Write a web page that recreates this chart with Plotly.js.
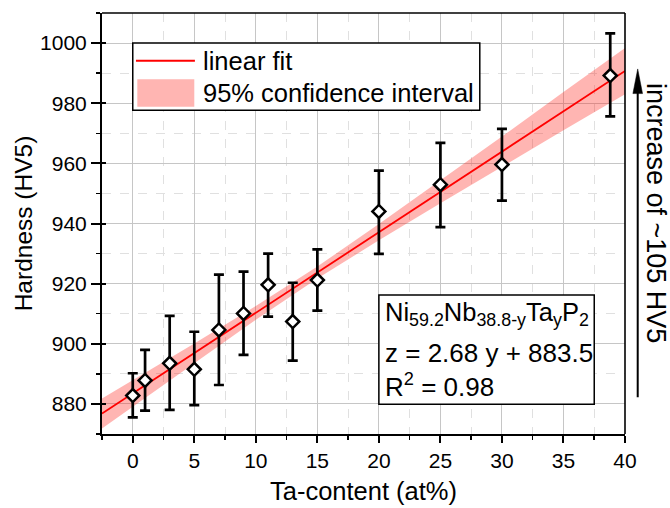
<!DOCTYPE html>
<html><head><meta charset="utf-8">
<script src="https://cdn.plot.ly/plotly-3.0.1.min.js"></script>
<style>html,body{margin:0;padding:0;background:#fff}</style>
</head><body>
<div id="chart" style="width:670px;height:508px"></div>
<script>
const taContent = [0, 1, 3, 5, 7, 9, 11, 13, 15, 20, 25, 30, 38.8];
const hardness  = [882.8, 887.8, 893.5, 891.5, 904.6, 910.1, 919.6, 907.4, 921.2, 944.0, 952.9, 959.6, 989.2];
const errPlus   = [7.4, 10.2, 15.8, 12.5, 18.4, 13.9, 10.4, 12.9, 10.2, 13.6, 13.9, 11.9, 14.0];
const errMinus  = [7.3, 10.0, 15.5, 11.9, 18.3, 13.8, 10.6, 13.0, 10.2, 14.1, 14.1, 12.0, 13.6];

// Linear fit line
const fitX = [-2.5, 40];
const fitY = [876.8, 990.7];

// 95% confidence band
const bandX     = [-2.5, 0, 5, 10, 15, 20, 25, 30, 35, 40];
const bandUpper = [881.8, 887.9, 900.1, 912.6, 925.7, 939.8, 954.3, 968.9, 983.7, 998.4];
const bandLower = [871.8, 879.1, 893.7, 908.0, 921.7, 934.4, 946.7, 958.9, 971.0, 983.0];

// Texts
const legendLabels = ['linear fit', '95% confidence interval'];
const boxLines = ['Ni<sub>59.2</sub>Nb<sub>38.8-y</sub>Ta<sub>y</sub>P<sub>2</sub>', 'z = 2.68 y + 883.5', 'R<sup>2</sup> = 0.98'];
const arrowText = 'increase of ~105 HV5';

const FONT = 'Liberation Sans, Arial, Helvetica, sans-serif';
const BAND = 'rgba(255,30,20,0.33)';

const traces = [
  {x: bandX, y: bandLower, mode: 'lines', line: {width: 0, color: 'rgba(0,0,0,0)'}, hoverinfo: 'skip', showlegend: false},
  {x: bandX, y: bandUpper, mode: 'lines', line: {width: 0, color: 'rgba(0,0,0,0)'}, fill: 'tonexty', fillcolor: BAND, hoverinfo: 'skip', name: legendLabels[1]},
  {x: fitX, y: fitY, mode: 'lines', line: {color: '#ff0000', width: 1.8}, name: legendLabels[0]},
  {x: taContent, y: hardness, mode: 'markers',
   marker: {symbol: 'diamond', size: 10, color: '#ffffff', line: {color: '#000000', width: 2.5}},
   error_y: {type: 'data', symmetric: false, array: errPlus, arrayminus: errMinus, color: '#000000', thickness: 2.7, width: 5},
   showlegend: false},
  {x: [0], y: [900], yaxis: 'y2', mode: 'markers', marker: {opacity: 0}, hoverinfo: 'skip', showlegend: false}
];

const annotations = [
  {xref: 'x', yref: 'y', x: 5.55, y: 994.1, text: legendLabels[0], showarrow: false, xanchor: 'left', yanchor: 'middle', font: {size: 25.5, family: FONT, color: '#000'}},
  {xref: 'x', yref: 'y', x: 5.55, y: 983.4, text: legendLabels[1], showarrow: false, xanchor: 'left', yanchor: 'middle', font: {size: 25.5, family: FONT, color: '#000'}},
  {xref: 'x', yref: 'y', x: 20.3, y: 909.9, text: boxLines[0], showarrow: false, xanchor: 'left', yanchor: 'middle', font: {size: 25.5, family: FONT, color: '#000'}},
  {xref: 'x', yref: 'y', x: 20.3, y: 896.8, text: boxLines[1], showarrow: false, xanchor: 'left', yanchor: 'middle', font: {size: 26, family: FONT, color: '#000'}},
  {xref: 'x', yref: 'y', x: 20.3, y: 886.1, text: boxLines[2], showarrow: false, xanchor: 'left', yanchor: 'middle', font: {size: 26, family: FONT, color: '#000'}},
  {xref: 'paper', yref: 'paper', x: 1.0593, y: 0.525, text: arrowText, textangle: 90, showarrow: false, xanchor: 'center', yanchor: 'middle', font: {size: 27, family: FONT, color: '#000'}}
];

const shapes = [
  // frame top & right
  {type: 'line', xref: 'paper', yref: 'paper', x0: 0, x1: 1, y0: 1, y1: 1, line: {color: '#000', width: 1.4}},
  {type: 'line', xref: 'paper', yref: 'paper', x0: 1, x1: 1, y0: 0, y1: 1, line: {color: '#000', width: 1.6}},
  // legend box
  {type: 'rect', xref: 'x', yref: 'y', x0: 0.0, x1: 28.2, y0: 977.7, y1: 1000, line: {color: '#000', width: 1.5}, fillcolor: '#ffffff'},
  {type: 'line', xref: 'x', yref: 'y', x0: 0.26, x1: 5.05, y0: 994.1, y1: 994.1, line: {color: '#ff0000', width: 2}},
  {type: 'rect', xref: 'x', yref: 'y', x0: 0.37, x1: 5.0, y0: 978.8, y1: 988.0, line: {width: 0}, fillcolor: BAND},
  // equation box
  {type: 'rect', xref: 'x', yref: 'y', x0: 20.0, x1: 37.5, y0: 879.9, y1: 916.2, line: {color: '#000', width: 1.5}, fillcolor: '#ffffff'},
  // arrow
  {type: 'line', xref: 'paper', yref: 'y', x0: 1.0243, x1: 1.0243, y0: 882.2, y1: 984.5, line: {color: '#000', width: 2}},
  {type: 'path', xref: 'paper', yref: 'y', path: 'M1.0243,991.4 L1.0335,983.2 L1.0151,983.2 Z', fillcolor: '#000', line: {color: '#000', width: 0.5}}
];

const layout = {
  width: 670, height: 508,
  margin: {l: 102, r: 45, t: 13, b: 74, pad: 0},
  paper_bgcolor: '#ffffff', plot_bgcolor: '#ffffff',
  showlegend: false,
  font: {family: FONT, size: 21, color: '#000'},
  xaxis: {
    range: [-2.5, 40], tick0: 0, dtick: 5,
    ticks: 'outside', ticklen: 7, tickwidth: 2, tickcolor: '#000',
    showline: true, linewidth: 2, linecolor: '#000',
    showgrid: true, gridcolor: '#c6c6c6', gridwidth: 1, zeroline: false,
    tickfont: {size: 21, family: FONT, color: '#000'},
    title: {text: 'Ta-content (at%)', font: {size: 25.5, family: FONT, color: '#000'}, standoff: 11},
    minor: {dtick: 2.5, ticks: 'outside', ticklen: 4, tickwidth: 1.5, tickcolor: '#000', showgrid: true, gridcolor: '#e0e0e0', griddash: 'dash', gridwidth: 1}
  },
  yaxis: {
    range: [870, 1010], tick0: 880, dtick: 20,
    ticks: 'outside', ticklen: 9, tickwidth: 2, tickcolor: '#000',
    showline: true, linewidth: 2, linecolor: '#000',
    showgrid: true, gridcolor: '#c6c6c6', gridwidth: 1, zeroline: false,
    tickfont: {size: 21, family: FONT, color: '#000'},
    title: {text: 'Hardness (HV5)', font: {size: 24.5, family: FONT, color: '#000'}, standoff: 1},
    minor: {dtick: 10, ticks: 'outside', ticklen: 4, tickwidth: 1.5, tickcolor: '#000', showgrid: true, gridcolor: '#e0e0e0', griddash: 'dash', gridwidth: 1}
  },
  yaxis2: {
    overlaying: 'y', side: 'left', range: [870, 1010], tick0: 880, dtick: 20,
    ticks: 'inside', ticklen: 4, tickwidth: 2, tickcolor: '#000',
    showticklabels: false, showgrid: false, zeroline: false, showline: false
  },
  annotations: annotations,
  shapes: shapes
};

Plotly.newPlot('chart', traces, layout, {displayModeBar: false, staticPlot: true});
</script>
</body></html>
